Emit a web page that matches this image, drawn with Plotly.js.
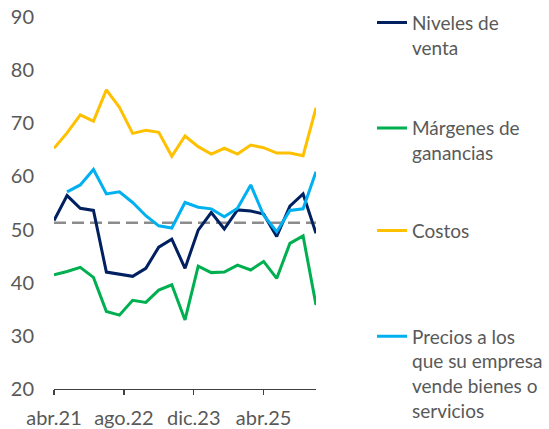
<!DOCTYPE html>
<html>
<head>
<meta charset="utf-8">
<script src="https://cdn.plot.ly/plotly-3.0.1.min.js"></script>
<style>html,body{margin:0;padding:0;background:#fff;}#chart{width:549px;height:429px;}</style>
</head>
<body>
<div id="chart"></div>
<script>
// Quarterly periods, abr.21 to abr.26
const periods = ['2021-04-01','2021-07-01','2021-10-01','2022-01-01','2022-04-01','2022-07-01','2022-10-01',
  '2023-01-01','2023-04-01','2023-07-01','2023-10-01','2024-01-01','2024-04-01','2024-07-01','2024-10-01',
  '2025-01-01','2025-04-01','2025-07-01','2025-10-01','2026-01-01','2026-04-01'];
const tickDates = ['2021-04-01','2022-08-01','2023-12-01','2025-04-01'];
const tickLabels = ['abr.21','ago.22','dic.23','abr.25'];

const nivelesVenta = [51.7,56.4,54.0,53.6,42.0,41.6,41.2,42.7,46.7,48.2,42.7,49.9,53.2,50.1,53.7,53.5,52.9,48.7,54.4,56.7,49.3];
const margenes     = [41.5,42.1,42.9,41.0,34.6,33.9,36.7,36.3,38.6,39.6,33.0,43.1,41.9,42.0,43.3,42.4,44.0,40.8,47.4,48.8,35.8];
const costos       = [65.3,68.2,71.6,70.4,76.3,73.0,68.1,68.7,68.3,63.8,67.6,65.6,64.2,65.3,64.2,65.9,65.4,64.4,64.4,63.9,72.9];
const precios      = [null,57.1,58.4,61.3,56.7,57.1,55.1,52.6,50.7,50.3,55.1,54.2,53.9,52.4,54.0,58.4,52.7,49.6,53.6,53.9,60.9];
const referencia   = 51.3;

const names = ['Niveles de<br>venta','Márgenes de<br>ganancias','Costos','Precios a los<br>que su empresa<br>vende bienes o<br>servicios'];
const colors = ['#002060','#00B050','#FFC000','#00B0F0'];
const legendIds = ['legend','legend','legend2','legend2'];
const series = [nivelesVenta, margenes, costos, precios];

const traces = series.map((s,i)=>({
  x: periods, y: s, type:'scatter', mode:'lines', name: names[i],
  line:{color:colors[i], width:3}, legendgroup:'g'+i, legend:legendIds[i], connectgaps:false
}));
traces.unshift({
  x:[periods[0], periods[periods.length-1]], y:[referencia, referencia],
  type:'scatter', mode:'lines', showlegend:false, hoverinfo:'skip',
  line:{color:'#8c8c8c', width:2.5, dash:'12px,6px'}
});

const legendBase = {xref:'container', yref:'container', x:372/549, xanchor:'left', yanchor:'top',
  font:{size:19, color:'#595959'}, valign:'top', bgcolor:'rgba(0,0,0,0)'};

const layout = {
  width:549, height:429,
  margin:{l:54, r:232.5, t:17, b:40},
  paper_bgcolor:'#fff', plot_bgcolor:'#fff',
  font:{family:'Lato, "Open Sans", sans-serif', color:'#595959'},
  xaxis:{type:'date', range:[periods[0], periods[periods.length-1]],
    tickvals:tickDates, ticktext:tickLabels, showgrid:false, zeroline:false,
    showline:true, linecolor:'#404040', linewidth:1.3, ticks:'outside', ticklen:5, tickcolor:'#404040', tickwidth:1.3,
    tickfont:{size:20, color:'#595959'}, ticklabelstandoff:6},
  yaxis:{range:[20,90], dtick:10, showgrid:false, zeroline:false, showline:false, ticks:'',
    tickfont:{size:20, color:'#595959'}, ticklabelstandoff:19},
  showlegend:true,
  legend:Object.assign({}, legendBase, {y:1-3.7/429, tracegroupgap:53}),
  legend2:Object.assign({}, legendBase, {y:1-211.7/429, tracegroupgap:78})
};
Plotly.newPlot('chart', traces, layout, {displayModeBar:false, staticPlot:true});
</script>
</body>
</html>
